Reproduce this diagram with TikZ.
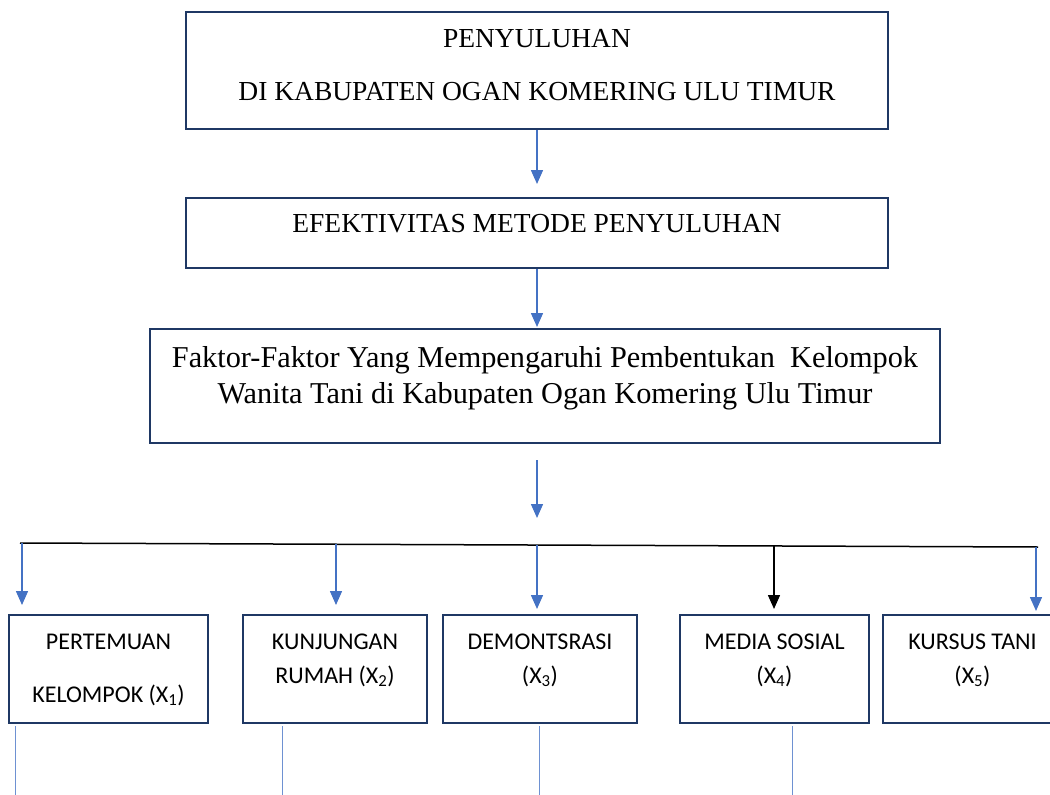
\documentclass[tikz,border=0pt]{standalone}
\usepackage{fontspec}
\setmainfont{Liberation Serif}
\newfontfamily\calibri{Carlito}
\usetikzlibrary{arrows.meta}
\definecolor{bx}{RGB}{31, 56, 100}
\definecolor{ar}{RGB}{68, 114, 196}
\definecolor{ln}{RGB}{110, 145, 210}

\begin{document}
\begin{tikzpicture}[x=1pt, y=1pt,
  every node/.style={inner sep=0pt},
  box/.style={rectangle, draw=bx, line width=2pt, fill=white},
  barrow/.style={draw=ar, line width=1.5pt, -{Triangle[width=12pt, length=14pt, fill=ar]}},
  karrow/.style={draw=black, line width=1.5pt, -{Triangle[width=12pt, length=14pt, fill=black]}},
  thinline/.style={draw=ln, line width=0.9pt},
  serif/.style={font=\fontsize{27.5}{33}\selectfont, anchor=base},
  bigserif/.style={font=\fontsize{30.3}{36}\selectfont, anchor=base},
  sans/.style={font=\calibri\fontsize{24}{29}\selectfont, anchor=base}]
\useasboundingbox (0,0) rectangle (1050,-795);
% upper boxes
\node (penyuluhan) [box, minimum width=702pt, minimum height=117pt] at (537, -70.5) {};
\node (efektivitas) [box, minimum width=702pt, minimum height=70pt] at (537, -233) {};
\node (faktor) [box, minimum width=790pt, minimum height=114pt] at (545, -386) {};
\node (t1) [serif] at (537, -47) {PENYULUHAN};
\node (t2) [serif] at (537, -100) {DI KABUPATEN OGAN KOMERING ULU TIMUR};
\node (t3) [serif] at (537, -232) {EFEKTIVITAS METODE PENYULUHAN};
\node (t4) [bigserif] at (545, -367) {Faktor-Faktor Yang Mempengaruhi Pembentukan\ \ Kelompok};
\node (t5) [bigserif] at (545, -403) {Wanita Tani di Kabupaten Ogan Komering Ulu Timur};
% metode boxes
\node (x1) [box, minimum width=199pt, minimum height=108pt] at (108.5, -669) {};
\node (x2) [box, minimum width=184pt, minimum height=108pt] at (335, -669) {};
\node (x3) [box, minimum width=194pt, minimum height=108pt] at (540, -669) {};
\node (x4) [box, minimum width=189pt, minimum height=108pt] at (774.5, -669) {};
\node (x5) [box, minimum width=179pt, minimum height=108pt] at (972.5, -669) {};
\node (s1a) [sans] at (108.5, -649) {PERTEMUAN};
\node (s1b) [sans] at (108.5, -702) {KELOMPOK (X\textsubscript{1})};
\node (s2a) [sans] at (335, -649) {KUNJUNGAN};
\node (s2b) [sans] at (335, -683) {RUMAH (X\textsubscript{2})};
\node (s3a) [sans] at (540, -649) {DEMONTSRASI};
\node (s3b) [sans] at (540, -683) {(X\textsubscript{3})};
\node (s4a) [sans] at (774.5, -649) {MEDIA SOSIAL};
\node (s4b) [sans] at (774.5, -683) {(X\textsubscript{4})};
\node (s5a) [sans] at (972.5, -649) {KURSUS TANI};
\node (s5b) [sans] at (972.5, -683) {(X\textsubscript{5})};
% arrows
\draw [barrow, shorten >=13pt] (penyuluhan) to (efektivitas);
\draw [barrow, shorten >=1pt] (efektivitas) to (efektivitas |- faktor.north);
\coordinate (a) at (537, -460);
\coordinate (b) at (537, -518);
\draw [barrow] (a) to (b);
\coordinate (hl) at (20, -543);
\coordinate (hr) at (1038, -547);
\draw [line width=1.5pt, color=black] (hl) to (hr);
\coordinate (d1) at (22, -543);
\coordinate (d2) at (336, -543.5);
\coordinate (d3) at (537, -544.5);
\coordinate (d4) at (774, -546);
\coordinate (d5) at (1036, -547);
\draw [barrow, shorten >=9pt] (d1) to (d1 |- x1.north);
\draw [barrow, shorten >=9pt] (d2) to (d2 |- x2.north);
\draw [barrow, shorten >=5pt] (d3) to (d3 |- x3.north);
\draw [karrow, shorten >=5pt] (d4) to (d4 |- x4.north);
\draw [barrow, shorten >=3pt] (d5) to (d5 |- x5.north);
% lower lines
\coordinate (e1) at (15, -795);
\coordinate (e2) at (282, -795);
\coordinate (e3) at (539, -795);
\coordinate (e4) at (792, -795);
\draw [thinline] ([yshift=-2pt]e1 |- x1.south) to (e1);
\draw [thinline] ([yshift=-2pt]e2 |- x2.south) to (e2);
\draw [thinline] ([yshift=-2pt]e3 |- x3.south) to (e3);
\draw [thinline] ([yshift=-2pt]e4 |- x4.south) to (e4);
\end{tikzpicture}
\end{document}
